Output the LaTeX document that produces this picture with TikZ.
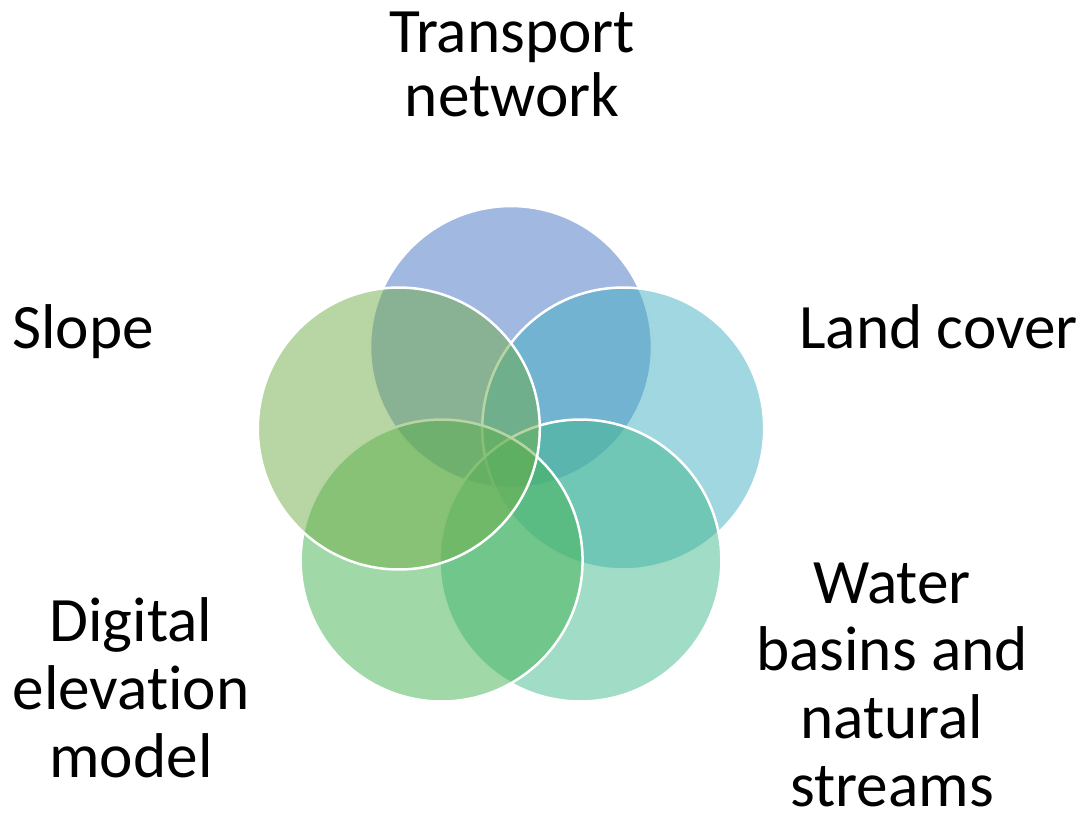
\documentclass[tikz,border=0pt]{standalone}
\usepackage{fontspec}
\setmainfont{Carlito}[Ligatures=NoCommon]
\definecolor{vennA}{RGB}{68,114,196}
\definecolor{vennB}{RGB}{67,175,193}
\definecolor{vennC}{RGB}{67,185,141}
\definecolor{vennD}{RGB}{67,177,81}
\definecolor{vennE}{RGB}{112,173,71}
\tikzset{
  venn/.style={circle, minimum size=5.64cm, inner sep=0pt, draw=white, line width=0.05cm, fill opacity=0.5},
  lbl/.style={inner sep=0pt, anchor=base, align=center, font=\fontsize{36}{36}\selectfont},
  lbltall/.style={lbl, font=\fontsize{36}{38.5}\selectfont}
}

\begin{document}
\begin{tikzpicture}[x=0.02cm, y=-0.02cm]
      \useasboundingbox (0,0) rectangle (1084,819);

      \node[venn, fill=vennA] (c0) at (511,347) {};
      \node[venn, fill=vennB] (c1) at (623.2,428.5) {};
      \node[venn, fill=vennC] (c2) at (580.4,560.5) {};
      \node[venn, fill=vennD] (c3) at (441.6,560.5) {};
      \node[venn, fill=vennE] (c4) at (398.8,428.5) {};

      % base of a multi-line node sits on its last line
      \node[lbl] (t0) at (512,116) {Transport\\network};
      \node[lbl, anchor=base west] (t1) at (799,348) {Land cover};
      \node[lbltall] (t2) at (892,806) {Water\\basins and\\natural\\streams};
      \node[lbltall] (t3) at (131,777) {Digital\\elevation\\model};
      \node[lbl, anchor=base west] (t4) at (12,348) {Slope};
\end{tikzpicture}
\end{document}
